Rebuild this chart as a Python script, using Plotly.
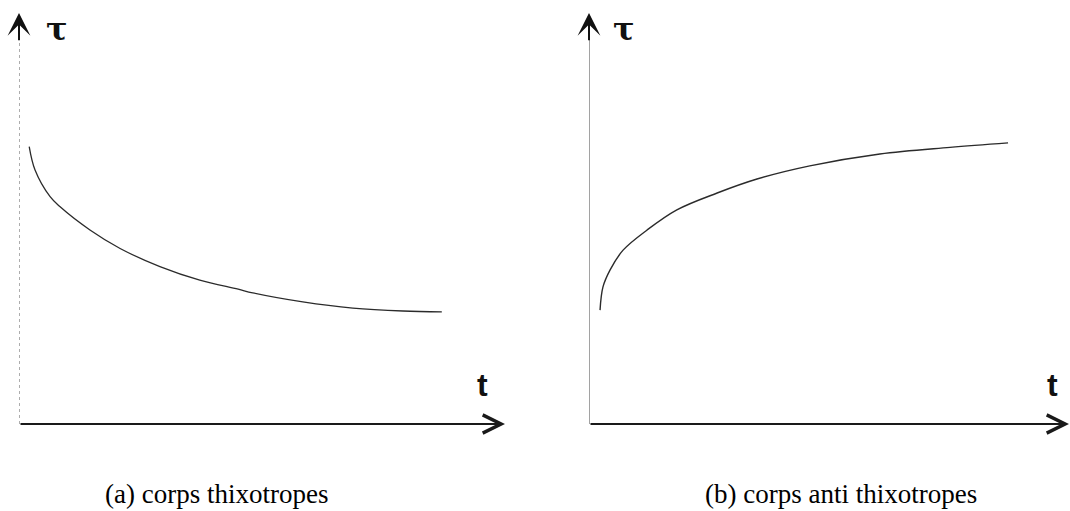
import plotly.graph_objects as go

# (a) thixotropic body: shear stress tau falls with time t
t_thixo = [0.21, 0.33, 0.64, 0.84, 1.46, 2.08, 2.90, 3.72, 4.51, 4.81, 5.84, 6.87, 7.90, 8.70]
tau_thixo = [6.75, 6.18, 5.53, 5.29, 4.72, 4.27, 3.83, 3.50, 3.28, 3.19, 2.97, 2.82, 2.75, 2.73]

# (b) anti-thixotropic body: shear stress tau rises with time t
t_anti = [0.23, 0.29, 0.44, 0.71, 1.21, 1.83, 2.67, 3.50, 4.60, 6.06, 7.52, 8.73]
tau_anti = [2.77, 3.33, 3.75, 4.23, 4.72, 5.21, 5.62, 5.96, 6.28, 6.57, 6.73, 6.84]

captions = ["(a) corps thixotropes", "(b) corps anti thixotropes"]
axis_max = 10

W, H = 1070, 511
curve_color = "#2b2b2b"
axis_color = "#1a1a1a"

fig = go.Figure()
fig.add_trace(go.Scatter(x=t_thixo, y=tau_thixo, mode="lines", line=dict(color=curve_color, width=1.3, shape="spline"),
                         xaxis="x", yaxis="y", hoverinfo="skip"))
fig.add_trace(go.Scatter(x=t_anti, y=tau_anti, mode="lines", line=dict(color=curve_color, width=1.4, shape="spline"),
                         xaxis="x2", yaxis="y2", hoverinfo="skip"))

annotations = []
shapes = []
for i, (xr, yr) in enumerate([("x", "y"), ("x2", "y2")]):
    # vertical axis line (scanned, faint and broken)
    shapes.append(dict(type="line", xref=xr, yref=yr, x0=0, x1=0, y0=0, y1=axis_max * 0.95,
                       line=dict(color="#6a6a6a" if i == 0 else "#555555", width=1.1, dash="dot" if i == 0 else "solid")))
    # filled arrowhead on the tau axis
    annotations.append(dict(x=0, y=axis_max, xref=xr, yref=yr, ax=0, ay=axis_max * 0.93, axref=xr, ayref=yr,
                            showarrow=True, arrowhead=3, arrowsize=1.9, arrowwidth=2, arrowcolor="#111111", text=""))
    # horizontal time axis with arrow
    annotations.append(dict(x=axis_max, y=0, xref=xr, yref=yr, ax=0, ay=0, axref=xr, ayref=yr,
                            showarrow=True, arrowhead=5, arrowsize=1.8, arrowwidth=2, arrowcolor=axis_color, text=""))
    # axis names
    annotations.append(dict(x=0.78 if i == 0 else 0.72, y=9.6, xref=xr, yref=yr, text="<b>τ</b>", showarrow=False,
                            font=dict(family="DejaVu Serif", size=32, color="#111111"), xanchor="center", yanchor="middle"))
    annotations.append(dict(x=9.53 if i == 0 else 9.65, y=0.95, xref=xr, yref=yr, text="<b>t</b>", showarrow=False,
                            font=dict(family="Liberation Sans", size=32, color="#111111"), xanchor="center", yanchor="middle"))

# captions under each panel
for x_left, txt in zip([103, 703], captions):
    annotations.append(dict(x=x_left / W, y=(H - 494) / H, xref="paper", yref="paper", text=txt, showarrow=False,
                            font=dict(family="Liberation Serif", size=27, color="#000000"),
                            xanchor="left", yanchor="middle"))

ydom = [(H - 424) / H, (H - 13) / H]
fig.update_layout(
    width=W, height=H,
    margin=dict(l=0, r=0, t=0, b=0),
    paper_bgcolor="white", plot_bgcolor="white",
    showlegend=False,
    xaxis=dict(domain=[19 / W, 505 / W], range=[0, axis_max], visible=False),
    yaxis=dict(domain=ydom, range=[0, axis_max], visible=False),
    xaxis2=dict(domain=[589 / W, 1069 / W], range=[0, axis_max], visible=False),
    yaxis2=dict(domain=ydom, range=[0, axis_max], visible=False),
    annotations=annotations,
    shapes=shapes,
)

fig.write_html("out.html")
